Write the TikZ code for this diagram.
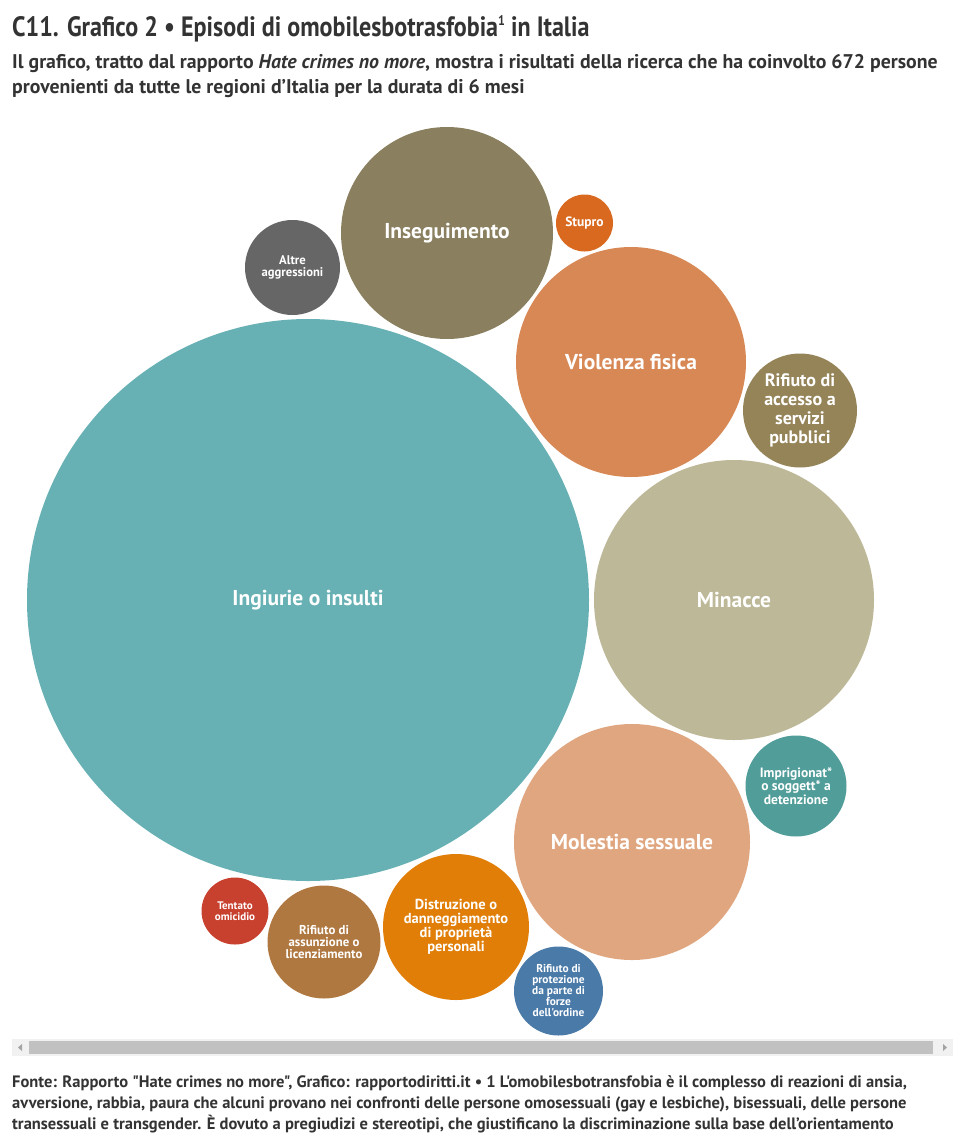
\documentclass[tikz,border=0pt]{standalone}
\usepackage{fontspec}
\newfontfamily\mainf{PT Sans}
\usepackage{graphicx}
\definecolor{txt}{HTML}{333333}
\definecolor{cIng}{HTML}{67B1B4}
\definecolor{cMin}{HTML}{BDB897}
\definecolor{cVio}{HTML}{D78855}
\definecolor{cIns}{HTML}{8A805F}
\definecolor{cMol}{HTML}{E0A680}
\definecolor{cDis}{HTML}{E07E08}
\definecolor{cAss}{HTML}{B07841}
\definecolor{cTen}{HTML}{C8402E}
\definecolor{cPro}{HTML}{4A7AA8}
\definecolor{cAlt}{HTML}{666666}
\definecolor{cStu}{HTML}{D9691F}
\definecolor{cAcc}{HTML}{968459}
\definecolor{cImp}{HTML}{519D9A}
\definecolor{sbBg}{HTML}{F1F1F1}
\definecolor{sbTh}{HTML}{C1C1C1}
\definecolor{sbAr}{HTML}{A3A3A3}
\begin{document}
\begin{tikzpicture}[x=1pt,y=-1pt,
  bubble/.style={circle,inner sep=0pt,draw=none,text=white,align=center},
  foot/.style={anchor=base west,inner sep=0pt,text=txt,font=\mainf\bfseries\fontsize{16.5}{20}\selectfont},
  subt/.style={anchor=base west,inner sep=0pt,text=txt,font=\mainf\bfseries\fontsize{19.8}{24}\selectfont}]
\useasboundingbox (0,0) rectangle (965,1138);
\fill[white] (0,0) rectangle (965,1138);
% title
\node[anchor=base west,inner sep=0pt,text=txt] (title) at (12,36)
  {\scalebox{0.86}[1]{\mainf\bfseries\fontsize{28}{32}\selectfont C11. Grafico 2 • Episodi di omobilesbotrasfobia\raisebox{0.75ex}{\fontsize{14}{14}\selectfont 1} in Italia}};
\node[subt] (sub1) at (12,68)
  {Il grafico, tratto dal rapporto \textit{Hate crimes no more}, mostra i risultati della ricerca che ha coinvolto 672 persone};
\node[subt] (sub2) at (12,93)
  {provenienti da tutte le regioni d’Italia per la durata di 6 mesi};
% bubbles
\node[bubble,fill=cIng,minimum size=562pt,font=\mainf\bfseries\fontsize{21.5}{24}\selectfont] (ing) at (308,600) {Ingiurie o insulti};
\node[bubble,fill=cMin,minimum size=280pt,font=\mainf\bfseries\fontsize{21.5}{24}\selectfont] (min) at (734,600) {Minacce};
\node[bubble,fill=cVio,minimum size=230pt,font=\mainf\bfseries\fontsize{21.5}{24}\selectfont] (vio) at (631,362) {Violenza fisica};
\node[bubble,fill=cIns,minimum size=212pt,font=\mainf\bfseries\fontsize{21.5}{24}\selectfont] (ins) at (447,233) {Inseguimento};
\node[bubble,fill=cMol,minimum size=236pt,font=\mainf\bfseries\fontsize{21.5}{24}\selectfont] (mol) at (632,842) {Molestia sessuale};
\node[bubble,fill=cDis,minimum size=146pt,font=\mainf\bfseries\fontsize{14.5}{14}\selectfont] (dis) at (456,927) {Distruzione o\\danneggiamento\\di proprietà\\personali};
\node[bubble,fill=cAss,minimum size=113pt,font=\mainf\bfseries\fontsize{12.8}{12}\selectfont] (ass) at (324,942) {Rifiuto di\\assunzione o\\licenziamento};
\node[bubble,fill=cTen,minimum size=67pt,font=\mainf\bfseries\fontsize{11}{10.5}\selectfont] (ten) at (235,911) {Tentato\\omicidio};
\node[bubble,fill=cPro,minimum size=89pt,font=\mainf\bfseries\fontsize{11.4}{11}\selectfont] (pro) at (558.5,991) {Rifiuto di\\protezione\\da parte di\\forze\\dell'ordine};
\node[bubble,fill=cAlt,minimum size=95pt,font=\mainf\bfseries\fontsize{12.6}{12.5}\selectfont] (alt) at (292.5,267.5) {Altre\\aggressioni};
\node[bubble,fill=cStu,minimum size=57pt,font=\mainf\bfseries\fontsize{13.5}{12}\selectfont] (stu) at (584.5,223) {Stupro};
\node[bubble,fill=cAcc,minimum size=114pt,font=\mainf\bfseries\fontsize{18}{19}\selectfont] (acc) at (800,410.5) {Rifiuto di\\accesso a\\servizi\\pubblici};
\node[bubble,fill=cImp,minimum size=101pt,font=\mainf\bfseries\fontsize{13.5}{12}\selectfont] (imp) at (796,786) {Imprigionat*\\o soggett* a\\detenzione};
% scrollbar
\fill[sbBg] (12,1039) rectangle (953,1056);
\fill[sbTh] (29,1041) rectangle (933,1054);
\fill[sbAr] (18,1047.5) -- (22,1044) -- (22,1051) -- cycle;
\fill[sbAr] (947,1047.5) -- (943,1044) -- (943,1051) -- cycle;
% footnote
\node[foot] (f1) at (12,1087) {Fonte: Rapporto "Hate crimes no more", Grafico: rapportodiritti.it • 1 L'omobilesbotransfobia è il complesso di reazioni di ansia,};
\node[foot] (f2) at (12,1108) {avversione, rabbia, paura che alcuni provano nei confronti delle persone omosessuali (gay e lesbiche), bisessuali, delle persone};
\node[foot] (f3) at (12,1129) {transessuali e transgender. È dovuto a pregiudizi e stereotipi, che giustificano la discriminazione sulla base dell’orientamento};
\node[foot] (f4) at (12,1150) {sessuale e dell'identità di genere};
\end{tikzpicture}
\end{document}
